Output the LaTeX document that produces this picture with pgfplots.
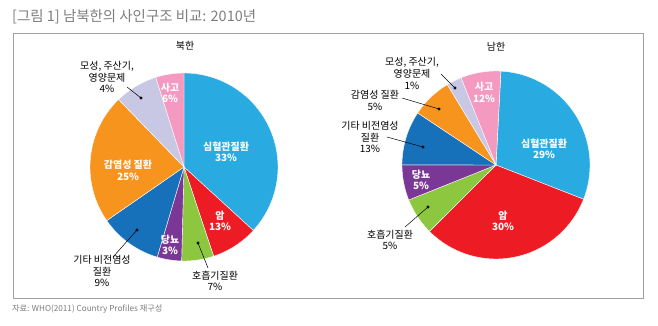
\documentclass[border=0pt]{standalone}
\usepackage{pgfplots}
\pgfplotsset{compat=1.18}
\usepackage{fontspec}
\setmainfont{Noto Sans CJK KR}
\definecolor{cCardio}{RGB}{41,171,226}
\definecolor{cCancer}{RGB}{237,28,36}
\definecolor{cResp}{RGB}{141,198,63}
\definecolor{cDiab}{RGB}{123,55,150}
\definecolor{cOther}{RGB}{22,112,186}
\definecolor{cInfect}{RGB}{247,148,29}
\definecolor{cMater}{RGB}{200,200,228}
\definecolor{cInjury}{RGB}{244,154,193}
\definecolor{cFrame}{RGB}{160,160,160}
\definecolor{cTitle}{RGB}{125,125,125}
\newcommand\drawpie[4]{%
  \xdef\cum{0}%
  \foreach \s/\c in {#4}{%
    \pgfmathsetmacro\a{#3-3.6*\cum}%
    \pgfmathsetmacro\b{#3-3.6*(\cum+\s)}%
    \edef\temp{\noexpand\addplot[fill=\c,draw=white,line width=0.4pt,domain=\b:\a,samples=60,variable=\noexpand\t] ({#1+94*cos(\noexpand\t)},{#2+94*sin(\noexpand\t)}) -- (axis cs:#1,#2) -- cycle;}%
    \temp
    \pgfmathsetmacro\nc{\cum+\s}\xdef\cum{\nc}%
  }%
}
\begin{document}
\begin{tikzpicture}
\begin{axis}[width=658bp,height=326bp,scale only axis,xmin=0,xmax=658,ymin=0,ymax=326,hide axis,clip=false]
\path (axis cs:0,0) rectangle (axis cs:658,326);
% North Korea (shares read from the drawn sectors, %)
\drawpie{184}{159}{90}{36.8/cCardio,8.1/cCancer,5.5/cResp,4.2/cDiab,10.75/cOther,22.4/cInfect,7.4/cMater,4.85/cInjury}
% South Korea
\drawpie{496}{161}{87}{30.1/cCardio,31.6/cCancer,6.4/cResp,6.1/cDiab,9.3/cOther,7.0/cInfect,2.6/cMater,6.9/cInjury}
% leader lines
\addplot[black,line width=0.5pt,mark=*,mark size=1.2pt,mark indices={1}] coordinates {(198,83) (208,58)};
\addplot[black,line width=0.5pt,mark=*,mark size=1.2pt,mark indices={1}] coordinates {(137,96) (113,69)};
\addplot[black,line width=0.5pt,mark=*,mark size=1.2pt,mark indices={1}] coordinates {(141,228) (127,239)};
\addplot[black,line width=0.5pt,mark=*,mark size=1.2pt,mark indices={1}] coordinates {(428,119) (405,99)};
\addplot[black,line width=0.5pt,mark=*,mark size=1.2pt,mark indices={1}] coordinates {(423,179) (387,189)};
\addplot[black,line width=0.5pt,mark=*,mark size=1.2pt,mark indices={1}] coordinates {(439,217) (402,228)};
\addplot[black,line width=0.5pt,mark=*,mark size=1.2pt,mark indices={1}] coordinates {(455,238) (441,252)};
% frame
\draw[cFrame,line width=0.8pt] (axis cs:13,28) rectangle (axis cs:643,293);
% titles
\node[anchor=west,text=cTitle,font=\fontsize{14.5}{16}\selectfont,inner sep=0pt] at (axis cs:12,309) {[그림 1] 남북한의 사인구조 비교: 2010년};
\node[anchor=west,text=cTitle,font=\fontsize{8.2}{10}\selectfont,inner sep=0pt] at (axis cs:12,17) {자료: WHO(2011) Country Profiles 재구성};
\tikzset{lab/.style={align=center,inner sep=0pt,font=\fontsize{10}{11.7}\selectfont},
  wlab/.style={lab,text=white,font=\fontsize{10}{11.7}\selectfont\bfseries}}
\node[lab] at (axis cs:185,280) {북한};
\node[lab] at (axis cs:496,279) {남한};
% North labels
\node[wlab] at (axis cs:226,174) {심혈관질환\\33\%};
\node[wlab] at (axis cs:220,105) {암\\13\%};
\node[lab] at (axis cs:215,45) {호흡기질환\\7\%};
\node[wlab] at (axis cs:170,81) {당뇨\\3\%};
\node[lab] at (axis cs:102,55) {기타 비전염성\\질환\\9\%};
\node[wlab] at (axis cs:128,155.5) {감염성 질환\\25\%};
\node[lab] at (axis cs:107,249) {모성, 주산기,\\영양문제\\4\%};
\node[wlab] at (axis cs:170,233) {사고\\6\%};
% South labels
\node[wlab] at (axis cs:544,177) {심혈관질환\\29\%};
\node[wlab] at (axis cs:503,105) {암\\30\%};
\node[lab] at (axis cs:390,86) {호흡기질환\\5\%};
\node[wlab] at (axis cs:421,146) {당뇨\\5\%};
\node[lab] at (axis cs:370,189) {기타 비전염성\\질환\\13\%};
\node[lab] at (axis cs:375,225.5) {감염성 질환\\5\%};
\node[lab] at (axis cs:412,252.5) {모성, 주산기,\\영양문제\\1\%};
\node[wlab] at (axis cs:484,233.5) {사고\\12\%};
\end{axis}
\end{tikzpicture}
\end{document}
